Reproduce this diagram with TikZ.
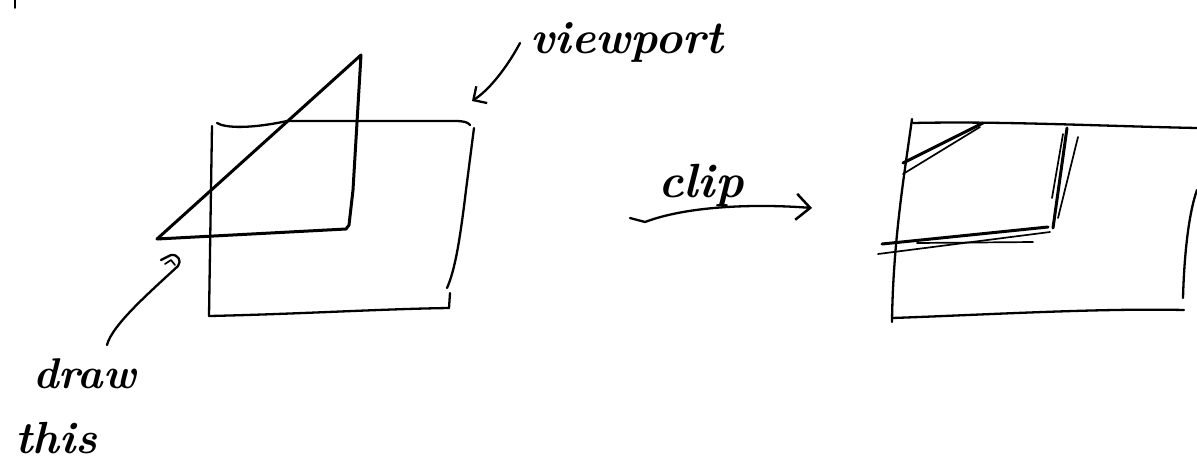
\documentclass[tikz,border=0pt]{standalone}
\usetikzlibrary{arrows.meta}
\begin{document}
\begin{tikzpicture}[x=1pt,y=-1pt, line cap=round, line join=round,
  pen/.style={line width=2.3pt},
  thinpen/.style={line width=1.7pt},
  heavy/.style={line width=3pt},
  lbl/.style={inner sep=0pt, anchor=base west},
  barb/.style={-{Straight Barb[length=10pt,width=20pt,line width=2.3pt]}},
  bigbarb/.style={-{Straight Barb[length=14pt,width=26pt,line width=2.5pt]}}]
\useasboundingbox (0,0) rectangle (1197,467);

% small tick at the top-left corner
\draw[thinpen] (15,0) -- (15,8);

% ---------- left: viewport and triangle ----------
% viewport rectangle (hand-drawn)
\draw[pen] (212,126) -- (209,316);
\draw[pen] (217,123) .. controls (225,128) and (250,129) .. (287,121)
           -- (455,121) .. controls (463,121) and (468,122) .. (470,125);
\draw[pen] (474,128) -- (466,190) .. controls (460,240) and (455,270) .. (447,288);
\draw[pen] (450,293) -- (449,308);
\draw[pen] (209,316) .. controls (300,314) and (380,309) .. (449,308);

% triangle to draw
\draw[heavy] (157,239) -- (361,55) -- (353,190) -- (349,225) -- (346,229) -- cycle;

% label "viewport" with its arrow
\node[lbl, font=\fontsize{46}{50}\selectfont\bfseries\itshape] (vp) at (530,53) {viewport};
\coordinate (vpTip) at (472,101);
\draw[pen, barb] ([xshift=-10pt,yshift=10pt]vp.base west)
     .. controls (510,62) and (492,88) .. (vpTip);

% label "draw this" with its hooked arrow
\node[lbl, font=\fontsize{43}{48}\selectfont\bfseries\itshape] (dr) at (33,388) {draw};
\node[lbl, font=\fontsize{45}{50}\selectfont\bfseries\itshape] (th) at (15,453) {this};
\coordinate (hook) at (178,266);
\draw[pen] ([xshift=74pt,yshift=43pt]dr.base west)
     .. controls (112,325) and (150,292) .. (hook)
     .. controls (182,261) and (178,254) .. (171,255) -- (161,260);
\draw[thinpen] (165,264) -- (171,260) -- (175,265);

% ---------- middle: clip arrow ----------
\node[lbl, font=\fontsize{48}{54}\selectfont\bfseries\itshape] (cl) at (658,197) {clip};
\coordinate (clTip) at (812,208);
\draw[pen, bigbarb] ([xshift=-28pt,yshift=-21pt]cl.base west) -- (645,222)
     .. controls (690,205) and (760,204) .. (clTip);

% ---------- right: clipped result ----------
\draw[pen] (913,123) .. controls (1000,121) and (1100,126) .. (1197,128);
\draw[pen] (912,119) .. controls (905,170) and (893,240) .. (892,322);
\draw[pen] (892,318) .. controls (980,315) and (1100,308) .. (1184,310);
\draw[pen] (1197,190) .. controls (1188,215) and (1184,260) .. (1183,298);

% clipped hypotenuse (double stroke)
\draw[heavy] (903,163) -- (983,123);
\draw[thinpen] (903,174) -- (980,127);
% clipped right side
\draw[heavy] (1067,128) -- (1053,228);
\draw[thinpen] (1078,137) -- (1058,218);
\draw[thinpen] (1063,134) -- (1052,198);
% clipped bottom side
\draw[heavy] (882,244) -- (1048,227);
\draw[thinpen] (878,254) -- (1050,232);
\draw[thinpen] (917,243) -- (1033,242);
\end{tikzpicture}
\end{document}
